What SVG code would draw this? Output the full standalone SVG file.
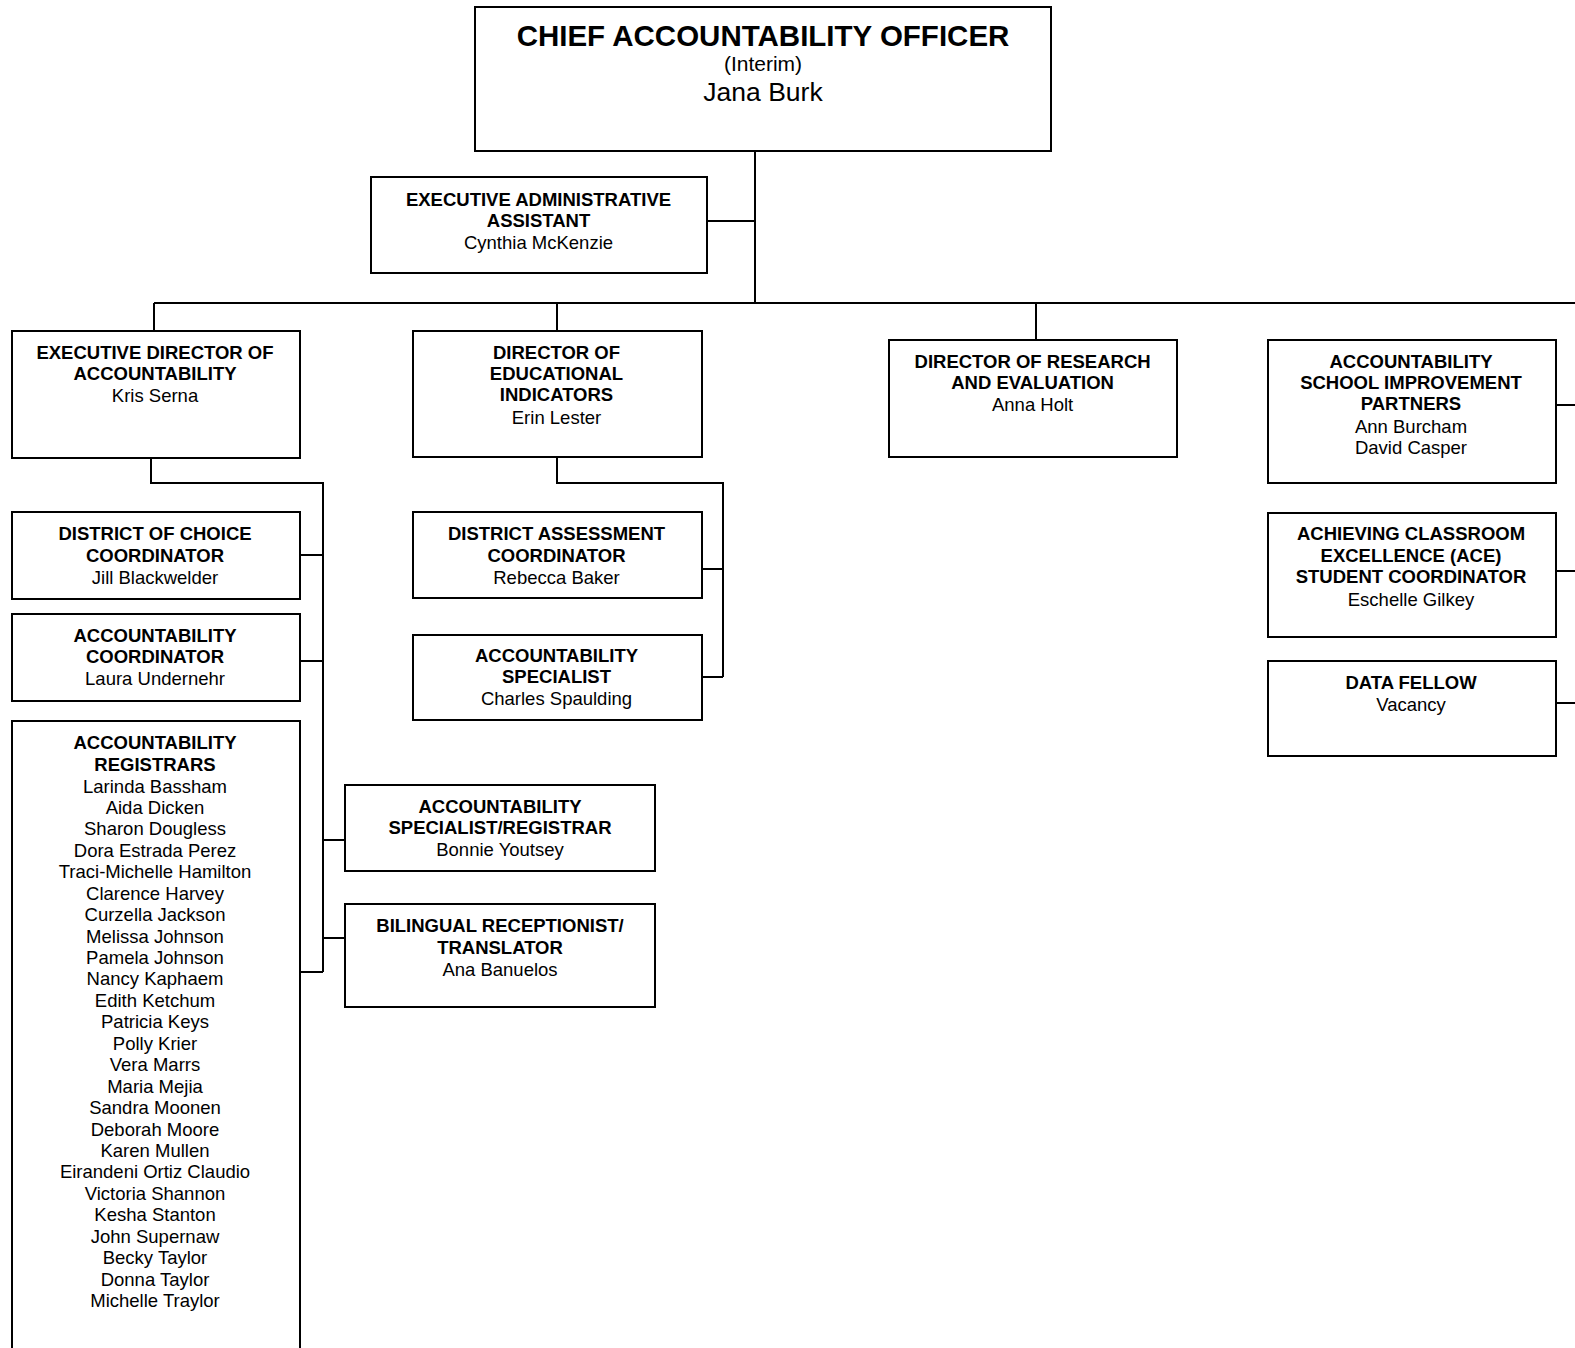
<svg xmlns="http://www.w3.org/2000/svg" width="1575" height="1348" viewBox="0 0 1575 1348">
<style>
.box{fill:#fff;stroke:#000;stroke-width:2}
.ln{fill:none;stroke:#000;stroke-width:2}
text{font-family:"Liberation Sans",Arial,sans-serif;text-anchor:middle;fill:#000;font-size:18.5px}
.b{font-weight:bold}
</style>
<rect width="1575" height="1348" fill="#fff"/>
<g id="connectors">
<path class="ln" d="M755,151V303M707,221H755M154,303H1576M154,303V331M557,303V331M1036,303V340"/>
<path class="ln" d="M1556,405H1576M1556,571H1576M1556,703H1576"/>
<path class="ln" d="M151,458V483H323V972M300,555H323M300,661H323M323,840H345M323,938H345M300,972H323"/>
<path class="ln" d="M557,457V483H723V677M702,569H723M702,677H723"/>
</g>
<g id="chief">
<rect class="box" x="475" y="7" width="576" height="144"/>
<text x="763" y="45.5" class="b" style="font-size:29.5px">CHIEF ACCOUNTABILITY OFFICER</text>
<text x="763" y="70.5" style="font-size:21px">(Interim)</text>
<text x="763" y="100.5" style="font-size:26.5px">Jana Burk</text>
</g>
<g id="exec-assistant">
<rect class="box" x="371" y="177" width="336" height="96"/>
<text x="538.5" y="205.5" class="b">EXECUTIVE ADMINISTRATIVE</text>
<text x="538.5" y="227" class="b">ASSISTANT</text>
<text x="538.5" y="248.6">Cynthia McKenzie</text>
</g>
<g id="exec-director">
<rect class="box" x="12" y="331" width="288" height="127"/>
<text x="155" y="358.6" class="b">EXECUTIVE DIRECTOR OF</text>
<text x="155" y="380" class="b">ACCOUNTABILITY</text>
<text x="155" y="402">Kris Serna</text>
</g>
<g id="dir-ed-indicators">
<rect class="box" x="413" y="331" width="289" height="126"/>
<text x="556.5" y="358.6" class="b">DIRECTOR OF</text>
<text x="556.5" y="380" class="b">EDUCATIONAL</text>
<text x="556.5" y="401.4" class="b">INDICATORS</text>
<text x="556.5" y="423.6">Erin Lester</text>
</g>
<g id="dir-research">
<rect class="box" x="889" y="340" width="288" height="117"/>
<text x="1032.6" y="367.6" class="b">DIRECTOR OF RESEARCH</text>
<text x="1032.6" y="389" class="b">AND EVALUATION</text>
<text x="1032.6" y="411">Anna Holt</text>
</g>
<g id="asip">
<rect class="box" x="1268" y="340" width="288" height="143"/>
<text x="1411" y="367.6" class="b">ACCOUNTABILITY</text>
<text x="1411" y="389" class="b">SCHOOL IMPROVEMENT</text>
<text x="1411" y="410.4" class="b">PARTNERS</text>
<text x="1411" y="433">Ann Burcham</text>
<text x="1411" y="454.4">David Casper</text>
</g>
<g id="ace">
<rect class="box" x="1268" y="513" width="288" height="124"/>
<text x="1411" y="540.4" class="b">ACHIEVING CLASSROOM</text>
<text x="1411" y="561.8" class="b">EXCELLENCE (ACE)</text>
<text x="1411" y="583.2" class="b">STUDENT COORDINATOR</text>
<text x="1411" y="606">Eschelle Gilkey</text>
</g>
<g id="data-fellow">
<rect class="box" x="1268" y="661" width="288" height="95"/>
<text x="1411" y="689" class="b">DATA FELLOW</text>
<text x="1411" y="710.6">Vacancy</text>
</g>
<g id="district-choice">
<rect class="box" x="12" y="512" width="288" height="87"/>
<text x="155" y="540.4" class="b">DISTRICT OF CHOICE</text>
<text x="155" y="561.8" class="b">COORDINATOR</text>
<text x="155" y="583.6">Jill Blackwelder</text>
</g>
<g id="acc-coordinator">
<rect class="box" x="12" y="614" width="288" height="87"/>
<text x="155" y="641.8" class="b">ACCOUNTABILITY</text>
<text x="155" y="663.2" class="b">COORDINATOR</text>
<text x="155" y="685.2">Laura Undernehr</text>
</g>
<g id="registrars">
<rect class="box" x="12" y="721" width="288" height="640"/>
<text x="155" y="749.4" class="b">ACCOUNTABILITY</text>
<text x="155" y="770.8" class="b">REGISTRARS</text>
<text x="155" y="792.5">Larinda Bassham</text>
<text x="155" y="813.9">Aida Dicken</text>
<text x="155" y="835.4">Sharon Dougless</text>
<text x="155" y="856.8">Dora Estrada Perez</text>
<text x="155" y="878.2">Traci-Michelle Hamilton</text>
<text x="155" y="899.7">Clarence Harvey</text>
<text x="155" y="921.1">Curzella Jackson</text>
<text x="155" y="942.6">Melissa Johnson</text>
<text x="155" y="964">Pamela Johnson</text>
<text x="155" y="985.4">Nancy Kaphaem</text>
<text x="155" y="1006.9">Edith Ketchum</text>
<text x="155" y="1028.3">Patricia Keys</text>
<text x="155" y="1049.8">Polly Krier</text>
<text x="155" y="1071.2">Vera Marrs</text>
<text x="155" y="1092.6">Maria Mejia</text>
<text x="155" y="1114.1">Sandra Moonen</text>
<text x="155" y="1135.5">Deborah Moore</text>
<text x="155" y="1157">Karen Mullen</text>
<text x="155" y="1178.4">Eirandeni Ortiz Claudio</text>
<text x="155" y="1199.8">Victoria Shannon</text>
<text x="155" y="1221.3">Kesha Stanton</text>
<text x="155" y="1242.7">John Supernaw</text>
<text x="155" y="1264.2">Becky Taylor</text>
<text x="155" y="1285.6">Donna Taylor</text>
<text x="155" y="1307">Michelle Traylor</text>
</g>
<g id="district-assessment">
<rect class="box" x="413" y="512" width="289" height="86"/>
<text x="556.5" y="540.4" class="b">DISTRICT ASSESSMENT</text>
<text x="556.5" y="561.8" class="b">COORDINATOR</text>
<text x="556.5" y="583.6">Rebecca Baker</text>
</g>
<g id="acc-specialist">
<rect class="box" x="413" y="635" width="289" height="85"/>
<text x="556.5" y="661.9" class="b">ACCOUNTABILITY</text>
<text x="556.5" y="683.3" class="b">SPECIALIST</text>
<text x="556.5" y="705.3">Charles Spaulding</text>
</g>
<g id="acc-spec-registrar">
<rect class="box" x="345" y="785" width="310" height="86"/>
<text x="500" y="812.6" class="b">ACCOUNTABILITY</text>
<text x="500" y="834" class="b">SPECIALIST/REGISTRAR</text>
<text x="500" y="856">Bonnie Youtsey</text>
</g>
<g id="bilingual">
<rect class="box" x="345" y="904" width="310" height="103"/>
<text x="500" y="932.1" class="b">BILINGUAL RECEPTIONIST/</text>
<text x="500" y="953.5" class="b">TRANSLATOR</text>
<text x="500" y="975.5">Ana Banuelos</text>
</g>
</svg>
